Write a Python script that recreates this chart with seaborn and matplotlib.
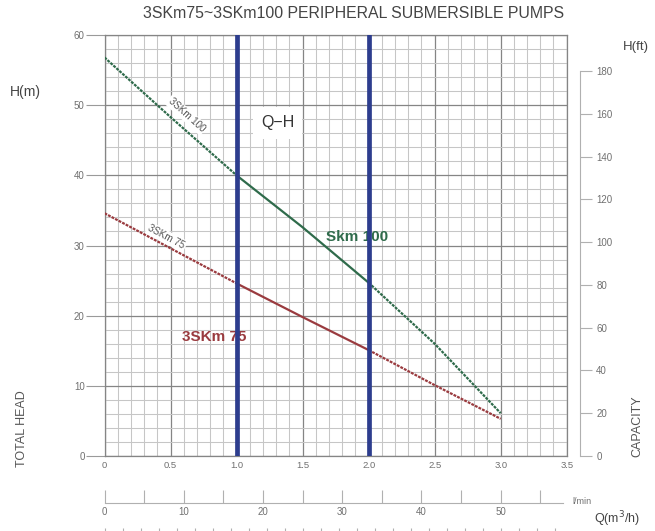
import numpy as np
import pandas as pd
import seaborn as sns
import matplotlib.pyplot as plt
from matplotlib.ticker import MultipleLocator, FuncFormatter

# 曲线数据 (Q 单位 m3/h, H 单位 m)
q = [0, 0.5, 1.0, 1.5, 2.0, 2.5, 3.0]
h_100 = [56.8, 48.3, 40.0, 32.6, 24.7, 16.0, 6.1]
h_75 = [34.6, 29.6, 24.6, 19.8, 15.1, 10.1, 5.3]
duty_q = [1.0, 2.0]          # 蓝色竖线 (推荐工作区)
h_ticks = [0, 10, 20, 30, 40, 50, 60]
ft_ticks = [0, 20, 40, 60, 80, 100, 120, 140, 160, 180]
lmin_ticks = [0, 10, 20, 30, 40, 50]

M_TO_FT = 3.28084
M3H_TO_LMIN = 1000 / 60
IGPM_M3H = 0.2727655

df = pd.DataFrame({
    'q': q * 2,
    'head': h_100 + h_75,
    'model': ['3SKm100'] * len(q) + ['3SKm75'] * len(q),
})

sns.set_style("white")
plt.rcParams['font.family'] = ['Liberation Sans', 'DejaVu Sans']
plt.rcParams['xtick.bottom'] = True
plt.rcParams['ytick.left'] = True

W, H = 655, 531
fig = plt.figure(figsize=(W / 100, H / 100), dpi=100)


def box(l, b, r, t):
    # 像素坐标 (左上角为原点) -> figure 坐标
    return [l / W, (H - b) / H, (r - l) / W, (b - t) / H]


GRAY_TXT = '#707070'
TICK_C = '#b0b0b0'
green = '#2f6b4b'
red = '#9a3b3f'
blue = '#2d3d8e'

# 主图
ax = fig.add_axes(box(104.5, 456, 566.7, 35))
ax.set_xlim(0, 3.5)
ax.set_ylim(0, 60)
ax.xaxis.set_major_locator(MultipleLocator(0.5))
ax.xaxis.set_minor_locator(MultipleLocator(0.1))
ax.set_yticks(h_ticks)
ax.yaxis.set_minor_locator(MultipleLocator(2))
ax.grid(which='minor', color='#c6c6c6', lw=0.75)
ax.grid(which='major', color='#858585', lw=0.9)
ax.set_axisbelow(True)
for s in ax.spines.values():
    s.set_color('#858585')
    s.set_linewidth(0.9)
ax.xaxis.set_major_formatter(FuncFormatter(lambda v, p: '0' if v == 0 else f'{v:.1f}'))
ax.tick_params(axis='x', which='both', length=0, pad=3.5, labelsize=6.8, labelcolor=GRAY_TXT)
ax.tick_params(axis='y', which='major', left=True, length=13.5, width=0.8, color='#9a9a9a',
               pad=0.8, labelsize=7, labelcolor=GRAY_TXT)
ax.tick_params(axis='y', which='minor', length=0)

# 曲线: 工作区 (1~2) 实线, 其余点线
for model, col in [('3SKm100', green), ('3SKm75', red)]:
    sub = df[df['model'] == model]
    segs = [(sub['q'] <= 1.0, (0, (1.3, 0.5))),
            ((sub['q'] >= 1.0) & (sub['q'] <= 2.0), '-'),
            (sub['q'] >= 2.0, (0, (1.3, 0.5)))]
    for mask, ls in segs:
        sns.lineplot(data=sub[mask], x='q', y='head', ax=ax, color=col,
                     lw=1.6, linestyle=ls, estimator=None, sort=True, zorder=3)
ax.set_xlabel('')
ax.set_ylabel('')

for xq in duty_q:
    ax.axvline(xq, color=blue, lw=3.4, zorder=5)

ax.text(1.31, 47.5, 'Q−H', fontsize=11.5, color='#333333', ha='center', va='center',
        bbox=dict(facecolor='white', edgecolor='none', pad=6), zorder=4)
ax.text(0.62, 48.6, '3SKm 100', fontsize=7, color='#555555', rotation=-42,
        ha='center', va='center', rotation_mode='anchor',
        bbox=dict(facecolor='white', edgecolor='none', pad=1), zorder=4)
ax.text(0.47, 31.2, '3SKm 75', fontsize=7, color='#555555', rotation=-28,
        ha='center', va='center', rotation_mode='anchor',
        bbox=dict(facecolor='white', edgecolor='none', pad=1), zorder=4)
ax.text(1.675, 31.2, 'Skm 100', fontsize=11, fontweight='bold', color=green,
        ha='left', va='center', zorder=4)
ax.text(0.585, 17.0, '3SKm 75', fontsize=11, fontweight='bold', color=red,
        ha='left', va='center', zorder=4)

# 右侧 H(ft) 刻度
ax_ft = fig.add_axes(box(580, 456, 580.4, 35))
ax_ft.set_ylim(0, 60 * M_TO_FT)
ax_ft.set_xticks([])
ax_ft.set_yticks(ft_ticks)
ax_ft.patch.set_visible(False)
for k in ['top', 'right', 'bottom']:
    ax_ft.spines[k].set_visible(False)
ax_ft.spines['left'].set_color(TICK_C)
ax_ft.spines['left'].set_linewidth(0.8)
ax_ft.spines['left'].set_bounds(0, 180)
ax_ft.tick_params(axis='y', left=False, right=True, labelleft=False, labelright=True,
                  direction='out', length=8.6, width=0.8, color=TICK_C,
                  pad=2.8, labelsize=7, labelcolor=GRAY_TXT)

# 下方 l/min 刻度
ax_l = fig.add_axes(box(104.5, 503, 566.7, 490))
ax_l.set_xlim(0, 3.5 * M3H_TO_LMIN)
ax_l.set_xticks(lmin_ticks)
ax_l.xaxis.set_minor_locator(MultipleLocator(5))
ax_l.set_yticks([])
ax_l.patch.set_visible(False)
for k in ['top', 'right', 'left']:
    ax_l.spines[k].set_visible(False)
ax_l.spines['bottom'].set_color(TICK_C)
ax_l.spines['bottom'].set_linewidth(0.8)
ax_l.spines['bottom'].set_bounds(0, 57.9)
ax_l.tick_params(axis='x', which='both', bottom=True, direction='in', length=9.4, width=0.8,
                 color=TICK_C, pad=3.2, labelsize=7, labelcolor=GRAY_TXT)

# 最下方 (被裁切的) 英制加仑刻度
ax_g = fig.add_axes(box(104.5, 535, 566.7, 520))
ax_g.set_xlim(0, 3.5 / IGPM_M3H)
ax_g.set_xticks(np.arange(0, 12.51, 0.5))
ax_g.set_yticks([])
ax_g.patch.set_visible(False)
for s in ax_g.spines.values():
    s.set_visible(False)
ax_g.tick_params(axis='x', bottom=True, direction='in', length=5, width=0.8, color=TICK_C,
                 labelbottom=False)

# 文字
fig.text(354 / W, 1 - 13 / H, '3SKm75~3SKm100 PERIPHERAL SUBMERSIBLE PUMPS',
         ha='center', va='center', fontsize=11.4, color='#444444')
fig.text(25 / W, 1 - 92 / H, 'H(m)', ha='center', va='center', fontsize=10, color='#444444')
fig.text(636 / W, 1 - 47 / H, 'H(ft)', ha='center', va='center', fontsize=9.5, color='#444444')
fig.text(22 / W, 1 - 429 / H, 'TOTAL HEAD', rotation=90, ha='center', va='center',
         fontsize=9, color='#555555')
fig.text(637 / W, 1 - 426 / H, 'CAPACITY', rotation=90, ha='center', va='center',
         fontsize=9, color='#555555')
fig.text(572 / W, 1 - 502 / H, 'l/min', ha='left', va='center', fontsize=6.5, color=GRAY_TXT)
fig.text(594 / W, 1 - 519 / H, 'Q(m$^3$/h)', ha='left', va='center', fontsize=9, color='#444444')

fig.savefig('out.png', dpi=100)
